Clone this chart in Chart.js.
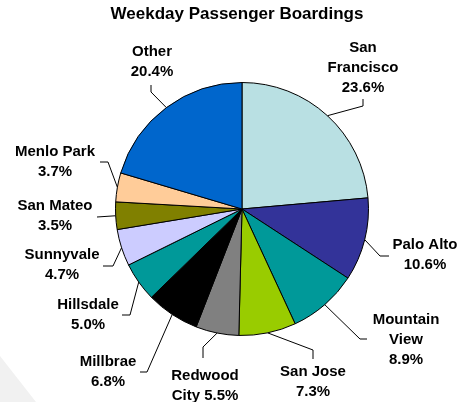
<!DOCTYPE html>
<html>
<head>
<meta charset="utf-8">
<script src="https://cdn.jsdelivr.net/npm/chart.js@4/dist/chart.umd.min.js"></script>
<style>
  html, body { margin: 0; padding: 0; background: #fff; }
  #wrap { width: 460px; height: 402px; position: relative; }
</style>
</head>
<body>
<div id="wrap"><canvas id="chart" width="460" height="402"></canvas></div>
<script>
// station shares, clockwise from 12 o'clock
const stations = ["San Francisco", "Palo Alto", "Mountain View", "San Jose", "Redwood City",
  "Millbrae", "Hillsdale", "Sunnyvale", "San Mateo", "Menlo Park", "Other"];
const shares = [23.6, 10.6, 8.9, 7.3, 5.5, 6.8, 5.0, 4.7, 3.5, 3.7, 20.4];
const labelLines = ["San\nFrancisco\n{p}", "Palo Alto\n{p}", "Mountain\nView\n{p}", "San Jose\n{p}",
  "Redwood\nCity {p}", "Millbrae\n{p}", "Hillsdale\n{p}", "Sunnyvale\n{p}", "San Mateo\n{p}",
  "Menlo Park\n{p}", "Other\n{p}"];
const colors = ["#b9e0e3", "#333399", "#009999", "#99cc00", "#808080",
  "#000000", "#009999", "#ccccff", "#808000", "#ffcc99", "#0066cc"];

// label placement relative to pie centre: leader bends, then text centre (first line)
const labelLayout = [
  { line: [[121, -103], [121, -110]], text: [121, -161] },
  { line: [[138, 47], [147, 47]], text: [183, 36] },
  { line: [[118, 130], [125, 130]], text: [164, 111] },
  { line: [[71, 141], [71, 150]], text: [71, 163] },
  { line: [[-39, 138], [-39, 149]], text: [-37, 167] },
  { line: [[-95, 163], [-102, 163]], text: [-134, 153] },
  { line: [[-112, 106], [-120, 106]], text: [-154, 96] },
  { line: [[-129, 57], [-139, 57]], text: [-180, 46] },
  { line: [[-145, 8]], text: [-187, -3] },
  { line: [[-134, -47], [-142, -47]], text: [-187, -57] },
  { line: [[-91, -117], [-91, -124]], text: [-90, -157] }
];

const FONT = '"Liberation Sans", Arial, sans-serif';

const calloutPlugin = {
  id: 'callouts',
  beforeDraw(chart) {
    const ctx = chart.ctx;
    ctx.save();
    // faint slide watermark, bottom-left
    ctx.fillStyle = '#f1f1f1';
    ctx.beginPath();
    ctx.moveTo(0, 356);
    ctx.lineTo(36, 402);
    ctx.lineTo(0, 402);
    ctx.closePath();
    ctx.fill();
    ctx.restore();
  },
  afterDraw(chart) {
    const ctx = chart.ctx;
    const arcs = chart.getDatasetMeta(0).data;
    ctx.save();
    ctx.fillStyle = '#000';
    ctx.strokeStyle = '#000';
    ctx.lineWidth = 1;
    ctx.textAlign = 'center';
    ctx.textBaseline = 'middle';

    // title
    ctx.font = 'bold 17px ' + FONT;
    ctx.fillText('Weekday Passenger Boardings', 237, 14);

    ctx.font = 'bold 15px ' + FONT;
    arcs.forEach((arc, i) => {
      const { x, y, startAngle, endAngle, outerRadius } = arc.getProps(['x', 'y', 'startAngle', 'endAngle', 'outerRadius'], true);
      const mid = (startAngle + endAngle) / 2;
      const lay = labelLayout[i];
      ctx.beginPath();
      ctx.moveTo(x + Math.cos(mid) * outerRadius, y + Math.sin(mid) * outerRadius);
      lay.line.forEach(p => ctx.lineTo(x + p[0], y + p[1]));
      ctx.stroke();

      const txt = labelLines[i].replace('{p}', shares[i].toFixed(1) + '%').split('\n');
      txt.forEach((t, k) => ctx.fillText(t, x + lay.text[0], y + lay.text[1] + k * 20));
    });
    ctx.restore();
  }
};

new Chart(document.getElementById('chart'), {
  type: 'pie',
  data: {
    labels: stations,
    datasets: [{
      data: shares,
      backgroundColor: colors,
      borderColor: '#000',
      borderWidth: 1
    }]
  },
  options: {
    responsive: false,
    animation: false,
    layout: { padding: { top: 82, bottom: 66, left: 24, right: 0 } },
    plugins: {
      legend: { display: false },
      tooltip: { enabled: false },
      title: { display: false }
    }
  },
  plugins: [calloutPlugin]
});
</script>
</body>
</html>
